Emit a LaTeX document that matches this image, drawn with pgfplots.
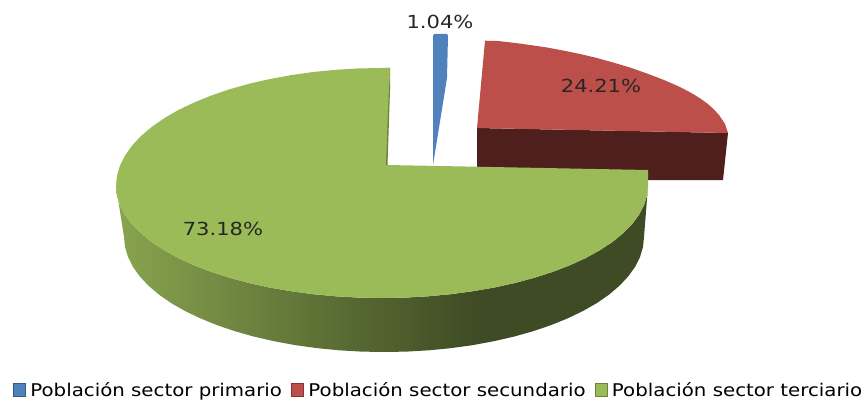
\documentclass[border=0pt]{standalone}
\usepackage{pgfplots}
\usepackage{fontspec}
\pgfplotsset{compat=1.18}
\setmainfont{DejaVu Sans}
\newfontfamily\lab[FakeStretch=1.17]{DejaVu Sans}
\newfontfamily\leg[FakeStretch=1.13]{DejaVu Sans}
\definecolor{cblue}{HTML}{4F81BD}
\definecolor{cred}{HTML}{BD4F4B}
\definecolor{cgreen}{HTML}{9BBB59}
\definecolor{cdred}{HTML}{4F1F1D}
\pgfdeclarehorizontalshading{greenside}{100bp}{
 color(0bp)=(cgreen!88!black); color(25bp)=(cgreen!88!black);
 color(36bp)=(cgreen!72!black); color(48bp)=(cgreen!55!black);
 color(59bp)=(cgreen!40!black); color(75bp)=(cgreen!40!black);
 color(100bp)=(cgreen!40!black)}
\begin{document}
\begin{tikzpicture}
\useasboundingbox (0,0) rectangle (864bp,401bp);
\begin{axis}[
 at={(0,0)}, anchor=south west,
 scale only axis, width=864bp, height=401bp,
 xmin=0, xmax=864, ymin=0, ymax=401, y dir=reverse,
 hide axis, clip=false,
 legend style={at={(axis cs:13,390)}, anchor=west, draw=none, fill=none,
   inner sep=0pt, outer sep=0pt,
   /tikz/every even column/.append style={column sep=7bp},
   /tikz/every odd column/.append style={column sep=3bp},
   font=\leg\fontsize{17.5bp}{20bp}\selectfont},
 legend columns=-1,
 legend cell align=left,
 legend image code/.code={\draw[#1] (0bp,-6.5bp) rectangle (12bp,6.5bp);},
]
\addlegendimage{fill=cblue,draw=cblue!70!black}
\addlegendentry{Población sector primario}
\addlegendimage{fill=cred,draw=cred!70!black}
\addlegendentry{Población sector secundario}
\addlegendimage{fill=cgreen,draw=cgreen!70!black}
\addlegendentry{Población sector terciario}

% red slice: side, top
\addplot[forget plot, fill=cdred, draw=none] coordinates {
 (477,128) (728,133) (723,180) (477,180)} -- cycle;
\addplot[forget plot, fill=cred, draw=none] coordinates {
 (477,128) (485,40.7) (498,41) (513,42.7) (530,45) (547,47.5) (563,50.5) (580,54) (597,58) (613,62.5) (630,67.5) (647,73.5) (664,80) (680,87) (691,92.8) (700,98.3) (707,103.3) (713,108.5) (719,115) (725,124) (728,133)} -- cycle;
% blue slice
\addplot[forget plot, fill=cblue, draw=none] coordinates {
 (433,165) (433,36) (434,34) (447,34) (448,36) (447,78)} -- cycle;
% green side
\addplot[forget plot, shade, shading=greenside, draw=none] coordinates {
 (116,186) (117,195.8) (120,205.4) (125.1,215) (132,224.3) (140.9,233.3) (151.6,242) (164.1,250.2) (178.2,258) (193.9,265.2) (211,271.8) (229.4,277.7) (249,283) (269.6,287.5) (291,291.2) (313.2,294.2) (335.8,296.3) (358.8,297.6) (382,298)
 (405.2,297.6) (428.2,296.3) (450.8,294.2) (473,291.2) (494.4,287.5) (515,283) (534.6,277.7) (553,271.8) (570.1,265.2) (585.8,258) (599.9,250.2) (612.4,242) (623.1,233.3) (632,224.3) (638.9,215) (644,205.4) (647,195.8) (648,186)
 (644,237) (643,247) (640,257) (635.1,266.8) (628.3,276.3) (619.6,285.6) (609.2,294.5) (597,303) (583.2,310.9) (567.8,318.3) (551.1,325.1) (533.1,331.2) (514,336.6) (493.9,341.2) (472.9,345.1) (451.3,348.1) (429.1,350.3) (406.7,351.6) (384,352)
 (361.3,351.6) (338.9,350.3) (316.7,348.1) (295.1,345.1) (274.1,341.2) (254,336.6) (234.9,331.2) (216.9,325.1) (200.2,318.3) (184.8,310.9) (171,303) (158.8,294.5) (148.4,285.6) (139.7,276.3) (132.9,266.8) (128,257) (125,247) (124,237)} -- cycle;
% green top
\addplot[forget plot, fill=cgreen, draw=none] coordinates {
 (387,165) (390,67.5) (382,68) (358.8,68.4) (335.8,69.8) (313.2,72) (291,75.1) (269.6,79.1) (249,83.8) (229.4,89.3) (211,95.6) (193.9,102.6) (178.2,110.1) (164.1,118.3) (151.6,127) (140.9,136.1) (132,145.6) (125.1,155.5) (120,165.5) (117,175.7) (116,186)
 (117,195.8) (120,205.4) (125.1,215) (132,224.3) (140.9,233.3) (151.6,242) (164.1,250.2) (178.2,258) (193.9,265.2) (211,271.8) (229.4,277.7) (249,283) (269.6,287.5) (291,291.2) (313.2,294.2) (335.8,296.3) (358.8,297.6) (382,298)
 (405.2,297.6) (428.2,296.3) (450.8,294.2) (473,291.2) (494.4,287.5) (515,283) (534.6,277.7) (553,271.8) (570.1,265.2) (585.8,258) (599.9,250.2) (612.4,242) (623.1,233.3) (632,224.3) (638.9,215) (644,205.4) (647,195.8) (648,186) (648,170)} -- cycle;
% thin shaded sliver on the inner cut of the green slice
\addplot[forget plot, fill=cgreen!70!black, draw=none] coordinates {
 (390,67.5) (390,90) (387.5,165) (386,165) (388,110)} -- cycle;

\node[font=\lab\fontsize{18bp}{20bp}\selectfont, text=black!85] at (axis cs:440,22) {1.04\%};
\node[font=\lab\fontsize{18bp}{20bp}\selectfont, text=black!85] at (axis cs:601,86) {24.21\%};
\node[font=\lab\fontsize{18bp}{20bp}\selectfont, text=black!85] at (axis cs:223,229) {73.18\%};
\end{axis}
\end{tikzpicture}
\end{document}
